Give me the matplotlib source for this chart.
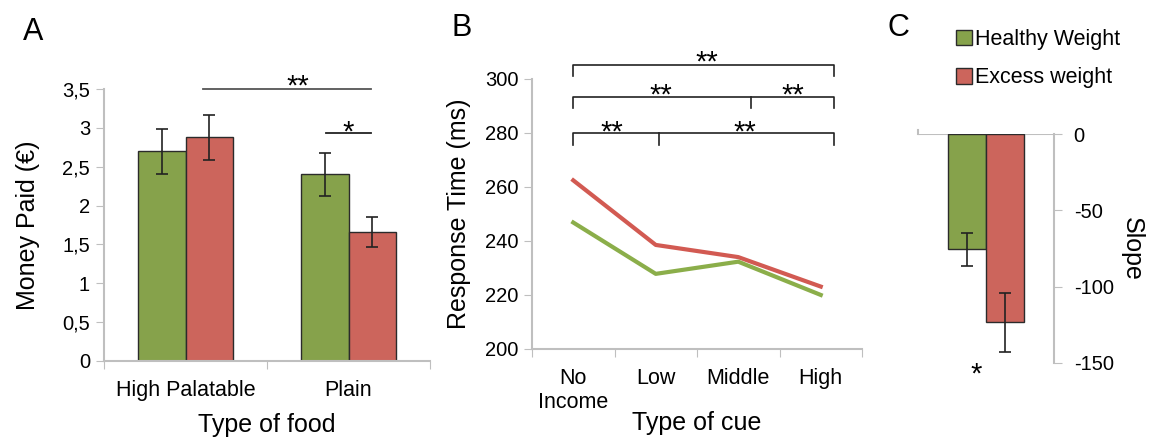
import matplotlib
matplotlib.use("Agg")
import matplotlib.pyplot as plt
from matplotlib.patches import Patch
import numpy as np

plt.rcParams['font.family'] = ['Liberation Sans', 'DejaVu Sans']
plt.rcParams['axes.unicode_minus'] = False

# Panel A data
food_types = ["High Palatable", "Plain"]
paid_healthy = [2.70, 2.40]
paid_healthy_err = [0.29, 0.28]
paid_excess = [2.88, 1.66]
paid_excess_err = [0.29, 0.19]
a_yticks = [0, 0.5, 1, 1.5, 2, 2.5, 3, 3.5]
a_yticklabels = ["0", "0,5", "1", "1,5", "2", "2,5", "3", "3,5"]

# Panel B data
cue_types = ["No\nIncome", "Low", "Middle", "High"]
rt_healthy = [246.8, 227.8, 232.3, 220.0]
rt_excess = [262.4, 238.5, 234.0, 223.1]
b_yticks = [200, 220, 240, 260, 280, 300]

# Panel C data
groups = ["Healthy Weight", "Excess weight"]
slope_healthy = -75.6
slope_healthy_err = 10.8
slope_excess = -123.5
slope_excess_err = 19.4
c_yticks = [0, -50, -100, -150]

GREEN = "#86A24B"
RED = "#CC655C"
LGREEN = "#8BAE4A"
LRED = "#D25A52"
AXC = "#BFBFBF"
FS_XT = 15.5
FS_YT = 14.5
FS_LAB = 18
FS_STAR = 21

fig = plt.figure(figsize=(11.52, 4.37), dpi=100)

def px(x0, y0, x1, y1):
    W, H = 1152, 437
    return [x0 / W, 1 - y1 / H, (x1 - x0) / W, (y1 - y0) / H]

ekw = dict(ecolor="#222222", elinewidth=1.2, capsize=4, capthick=1.2)

# ---------- Panel A ----------
axA = fig.add_axes(px(104, 89, 430, 361))
x = np.arange(len(food_types))
w = 0.29
axA.bar(x - w / 2, paid_healthy, w, color=GREEN, edgecolor="#2b2b2b", linewidth=1.0,
        yerr=paid_healthy_err, error_kw=ekw)
axA.bar(x + w / 2, paid_excess, w, color=RED, edgecolor="#2b2b2b", linewidth=1.0,
        yerr=paid_excess_err, error_kw=ekw)
axA.set_xlim(-0.5, 1.5)
axA.set_ylim(0, 3.5)
axA.set_yticks(a_yticks)
axA.set_yticklabels(a_yticklabels, fontsize=FS_YT)
axA.set_xticks([-0.5, 0.5, 1.5])
axA.set_xticklabels([])
axA.set_xticks(x, minor=True)
axA.set_xticklabels(food_types, minor=True, fontsize=FS_XT)
axA.tick_params(axis='x', which='minor', length=0, pad=14)
axA.tick_params(axis='x', which='major', length=6, color=AXC)
axA.tick_params(axis='y', length=6, color=AXC, pad=4)
for s in ["top", "right"]:
    axA.spines[s].set_visible(False)
for s in ["left", "bottom"]:
    axA.spines[s].set_color(AXC)
    axA.spines[s].set_linewidth(1.5)
axA.set_ylabel("Money Paid (€)", fontsize=FS_LAB, labelpad=16)
axA.set_xlabel("Type of food", fontsize=FS_LAB, labelpad=8)
# significance
axA.plot([0.11, 1.14], [3.5, 3.5], color="#555555", lw=1.3, clip_on=False)
axA.text(0.69, 3.431, "**", ha="center", va="baseline", fontsize=FS_STAR, clip_on=False)
axA.plot([0.86, 1.14], [2.94, 2.94], color="#222222", lw=1.3)
axA.text(1.0, 2.84, "*", ha="center", va="baseline", fontsize=FS_STAR)
fig.text(33 / 1152, 1 - 32 / 437, "A", fontsize=22, ha="center", va="center")

# ---------- Panel B ----------
axB = fig.add_axes(px(532, 78.7, 862, 349))
xb = np.arange(len(cue_types))
axB.plot(xb, rt_excess, color=LRED, lw=3)
axB.plot(xb, rt_healthy, color=LGREEN, lw=3)
axB.set_xlim(-0.5, 3.5)
axB.set_ylim(200, 300)
axB.set_yticks(b_yticks)
axB.tick_params(axis='y', labelsize=FS_YT, length=6, color=AXC)
axB.set_xticks([-0.5, 0.5, 1.5, 2.5, 3.5])
axB.set_xticklabels([])
axB.tick_params(axis='x', which='major', length=6, color=AXC)
axB.set_xticks(xb, minor=True)
axB.set_xticklabels(cue_types, minor=True, fontsize=FS_XT, linespacing=1.15)
axB.tick_params(axis='x', which='minor', length=0, pad=14)
for s in ["top", "right"]:
    axB.spines[s].set_visible(False)
for s in ["left", "bottom"]:
    axB.spines[s].set_color(AXC)
    axB.spines[s].set_linewidth(1.5)
axB.set_ylabel("Response Time (ms)", fontsize=FS_LAB, labelpad=10)
axB.set_xlabel("Type of cue", fontsize=FS_LAB, labelpad=-1)

def bracket(ax, x0, x1, y, drop, mids=()):
    kw = dict(color="#222222", lw=1.2, clip_on=False)
    ax.plot([x0, x0, x1, x1], [y - drop, y, y, y - drop], **kw)
    for m in mids:
        ax.plot([m, m], [y, y - drop], **kw)

bracket(axB, 0, 3.16, 305.1, 4.0)
bracket(axB, 0, 3.16, 293.3, 4.2, mids=[2.16])
bracket(axB, 0, 3.16, 280.0, 4.6, mids=[1.04])
stars_b = [(1.62, 302.9), (1.06, 290.7), (2.66, 290.7), (0.47, 277.0), (2.08, 277.0)]
for sx, sy in stars_b:
    axB.text(sx, sy, "**", ha="center", va="baseline", fontsize=FS_STAR, clip_on=False)
fig.text(462 / 1152, 1 - 28 / 437, "B", fontsize=22, ha="center", va="center")

# ---------- Panel C ----------
axC = fig.add_axes(px(917.7, 134.3, 1054.3, 362.7))
wc = 0.28
axC.bar([-wc / 2], [slope_healthy], wc, color=GREEN, edgecolor="#2b2b2b", linewidth=1.0,
        yerr=[slope_healthy_err], error_kw=ekw)
axC.bar([wc / 2], [slope_excess], wc, color=RED, edgecolor="#2b2b2b", linewidth=1.0,
        yerr=[slope_excess_err], error_kw=ekw)
axC.set_xlim(-0.5, 0.5)
axC.set_ylim(-150, 0)
axC.yaxis.tick_right()
axC.yaxis.set_label_position("right")
axC.set_yticks(c_yticks)
axC.tick_params(axis='y', labelsize=FS_YT, length=6, color=AXC, pad=8)
axC.set_xticks([])
for s in ["left", "bottom", "top"]:
    axC.spines[s].set_visible(False)
axC.spines["right"].set_color(AXC)
axC.spines["right"].set_linewidth(1.5)
axC.axhline(0, color=AXC, lw=1.5, zorder=0)
axC.plot([-0.5, -0.5], [0, 2.5], color=AXC, lw=1.5, clip_on=False)
axC.set_ylabel("Slope", fontsize=FS_LAB, rotation=270, labelpad=22)
axC.text(-0.073, -163.3, "*", ha="center", va="baseline", fontsize=FS_STAR, clip_on=False)
fig.text(898 / 1152, 1 - 28 / 437, "C", fontsize=22, ha="center", va="center")

handles = [Patch(facecolor=GREEN, edgecolor="#2b2b2b", label=groups[0]),
           Patch(facecolor=RED, edgecolor="#2b2b2b", label=groups[1])]
fig.legend(handles=handles, loc="upper left", bbox_to_anchor=(956 / 1152, 1 - 29 / 437),
           frameon=False, fontsize=15.5, handlelength=0.75, handleheight=0.75, handletextpad=0.15,
           labelspacing=0.8, borderaxespad=0, borderpad=0)

fig.savefig("out.png", dpi=100)
